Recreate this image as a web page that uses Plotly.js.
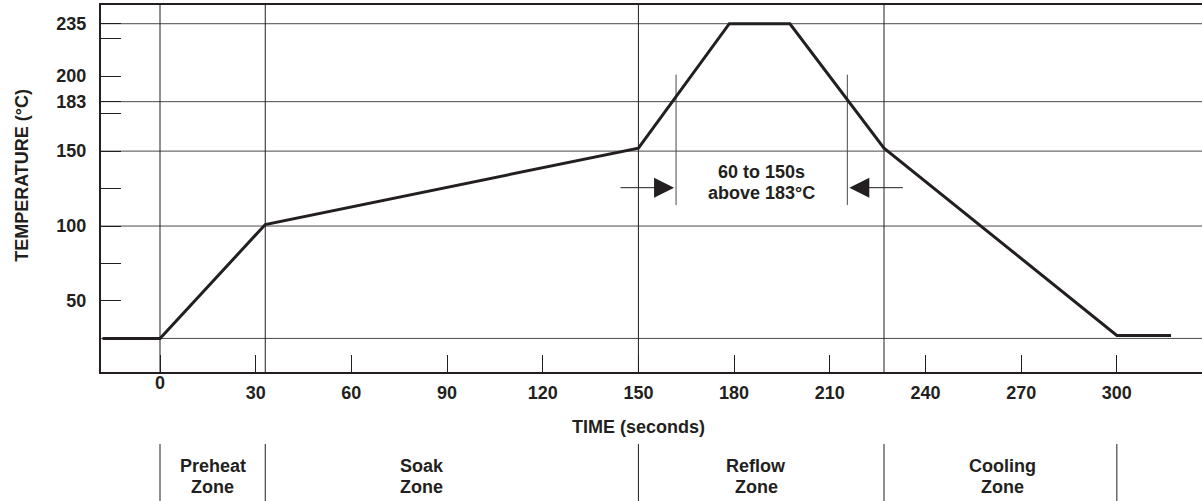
<!DOCTYPE html>
<html>
<head>
<meta charset="utf-8">
<script src="https://cdn.plot.ly/plotly-3.0.1.min.js"></script>
<style>html,body{margin:0;padding:0;background:#fff;}#chart{width:1202px;height:501px;}</style>
</head>
<body>
<div id="chart"></div>
<script>
// ---- data ----
const timeS = [-18, 0, 33, 150, 178.5, 197.5, 227, 300, 317];
const tempC = [25, 25, 101, 152, 235, 235, 152, 27, 27];

const xTickVals = [0, 30, 60, 90, 120, 150, 180, 210, 240, 270, 300];
const xTickText = ['', '30', '60', '90', '120', '150', '180', '210', '240', '270', '300'];
const yTickVals = [50, 100, 150, 183, 200, 235];
const yTickText = ['50', '100', '150', '183', '200', '235'];
const yMinorTicks = [75, 125, 175, 225];

const gridTemps = [25, 100, 150, 183, 235];
const gridTimes = [0, 33, 150, 227];
const zoneBounds = [0, 33, 150, 227, 300];
const zoneNames = ['Preheat', 'Soak', 'Reflow', 'Cooling'];
const zoneLabelTimes = [16.5, 82, 187, 264];

const windowTimes = [161.8, 215.5];
const windowSpan = [114, 201];
const arrowTemp = 125.6;
const windowLabelLines = ['60 to 150s', 'above 183°C'];
const windowLabelTemps = [136.3, 121.9];
const windowLabelTime = 188.6;

const xRange = [-18.5, 326.7];
const yRange = [2.6, 247.5];

// ---- styling ----
const INK = '#231f20';
const GRID = '#4a4a4a';
const FONT = {family: '"Liberation Sans", Arial, sans-serif', size: 18, color: INK, weight: 'bold'};

const shapes = [];
gridTemps.forEach(v => shapes.push({type: 'line', layer: 'below', xref: 'paper', x0: 0, x1: 1, yref: 'y', y0: v, y1: v, line: {color: GRID, width: 1}}));
gridTimes.forEach(t => shapes.push({type: 'line', layer: 'below', xref: 'x', x0: t, x1: t, yref: 'paper', y0: 0, y1: 1, line: {color: INK, width: 1}}));
windowTimes.forEach(t => shapes.push({type: 'line', layer: 'below', xref: 'x', x0: t, x1: t, yref: 'y', y0: windowSpan[0], y1: windowSpan[1], line: {color: GRID, width: 1}}));
zoneBounds.forEach(t => shapes.push({type: 'line', xref: 'x', x0: t, x1: t, yref: 'paper', y0: -0.196, y1: -0.37, line: {color: INK, width: 1}}));

const annotations = [];
// "0" tick label sits higher than the others in the reference
annotations.push({xref: 'x', x: 0, yref: 'paper', y: -0.031, text: '0', showarrow: false, font: FONT, xanchor: 'center', yanchor: 'middle'});
annotations.push({xref: 'x', x: 150, yref: 'paper', y: -0.149, text: 'TIME (seconds)', showarrow: false, font: FONT, xanchor: 'center', yanchor: 'middle'});
annotations.push({xref: 'paper', x: -0.0718, yref: 'paper', y: 0.537, text: 'TEMPERATURE (°C)', textangle: -90, showarrow: false, font: FONT, xanchor: 'center', yanchor: 'middle'});
zoneNames.forEach((n, i) => {
  annotations.push({xref: 'x', x: zoneLabelTimes[i], yref: 'paper', y: -0.256, text: n, showarrow: false, font: FONT, xanchor: 'center', yanchor: 'middle'});
  annotations.push({xref: 'x', x: zoneLabelTimes[i], yref: 'paper', y: -0.3125, text: 'Zone', showarrow: false, font: FONT, xanchor: 'center', yanchor: 'middle'});
});
windowLabelLines.forEach((s, i) => annotations.push({xref: 'x', x: windowLabelTime, yref: 'y', y: windowLabelTemps[i], text: s, showarrow: false, font: FONT, xanchor: 'center', yanchor: 'middle'}));
// inward arrows
annotations.push({xref: 'x', x: windowTimes[0], yref: 'y', y: arrowTemp, ax: -57, ay: 0, text: '', showarrow: true, arrowhead: 2, arrowsize: 4, arrowwidth: 1, arrowcolor: INK, standoff: 2});
annotations.push({xref: 'x', x: windowTimes[1], yref: 'y', y: arrowTemp, ax: 57, ay: 0, text: '', showarrow: true, arrowhead: 2, arrowsize: 4, arrowwidth: 1, arrowcolor: INK, standoff: 2});

const trace = {x: timeS, y: tempC, type: 'scatter', mode: 'lines', line: {color: INK, width: 3}, hoverinfo: 'skip'};

const layout = {
  width: 1202, height: 501,
  margin: {l: 101, r: 0, t: 5, b: 129},
  paper_bgcolor: '#fff', plot_bgcolor: '#fff',
  showlegend: false,
  font: FONT,
  xaxis: {
    range: xRange, showgrid: false, zeroline: false,
    showline: true, linecolor: INK, linewidth: 2, mirror: true,
    tickmode: 'array', tickvals: xTickVals, ticktext: xTickText,
    ticks: 'inside', ticklen: 17, tickcolor: INK, tickwidth: 1,
    tickfont: FONT, ticklabelstandoff: 3
  },
  yaxis: {
    range: yRange, showgrid: false, zeroline: false,
    showline: true, linecolor: INK, linewidth: 2, mirror: false,
    tickmode: 'array', tickvals: yTickVals, ticktext: yTickText,
    ticks: 'inside', ticklen: 20, tickcolor: INK, tickwidth: 1,
    tickfont: FONT, ticklabelstandoff: 9,
    minor: {tickmode: 'array', tickvals: yMinorTicks, ticks: 'inside', ticklen: 20, tickcolor: INK, tickwidth: 1, showgrid: false}
  },
  shapes: shapes,
  annotations: annotations
};

Plotly.newPlot('chart', [trace], layout, {displayModeBar: false, staticPlot: true});
</script>
</body>
</html>
